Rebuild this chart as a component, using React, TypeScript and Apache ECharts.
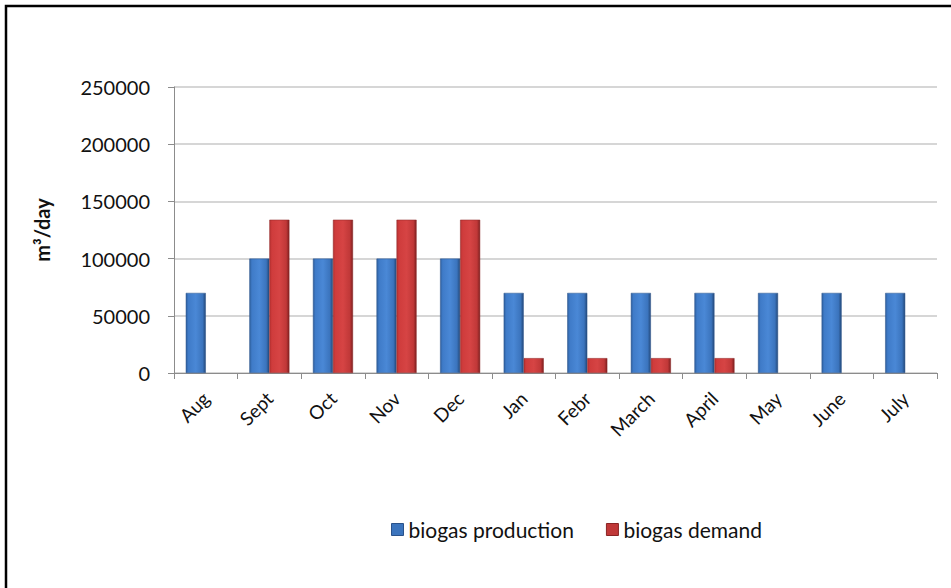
import React, { useEffect, useRef } from "react";
import * as echarts from "echarts";

const categories = ["Aug", "Sept", "Oct", "Nov", "Dec", "Jan", "Febr", "March", "April", "May", "June", "July"];
const production = [70000, 100000, 100000, 100000, 100000, 70000, 70000, 70000, 70000, 70000, 70000, 70000];
const demand = [null, 134000, 134000, 134000, 134000, 13000, 13000, 13000, 13000, null, null, null];
const seriesNames = ["biogas production", "biogas demand"];
const yTicks = { min: 0, max: 250000, interval: 50000 };

const FONT = "Lato, 'Open Sans', sans-serif";

export default function App() {
  const ref = useRef<HTMLDivElement>(null);
  useEffect(() => {
    const chart = echarts.init(ref.current!, null, { renderer: "svg" });
    const blue = new echarts.graphic.LinearGradient(0, 0, 1, 0, [
      { offset: 0, color: "#2e5f9e" },
      { offset: 0.12, color: "#3f7bc8" },
      { offset: 0.5, color: "#4a88d6" },
      { offset: 0.85, color: "#3b74bd" },
      { offset: 1, color: "#23497a" },
    ]);
    const red = new echarts.graphic.LinearGradient(0, 0, 1, 0, [
      { offset: 0, color: "#b83232" },
      { offset: 0.12, color: "#cf3c3c" },
      { offset: 0.5, color: "#d64444" },
      { offset: 0.85, color: "#c03838" },
      { offset: 1, color: "#7f2020" },
    ]);
    chart.setOption({
      animation: false,
      backgroundColor: "#ffffff",
      grid: { left: 174, right: 14, top: 87, bottom: 215, containLabel: false },
      graphic: [
        {
          type: "rect",
          shape: { x: 6, y: 6, width: 980, height: 620 },
          style: { fill: "none", stroke: "#000", lineWidth: 2.5 },
          z: 100,
        },
      ],
      legend: {
        left: 386,
        top: 514,
        icon: "rect",
        itemWidth: 12,
        itemHeight: 12,
        itemGap: 32,
        textStyle: { fontFamily: FONT, fontSize: 21, color: "#111" },
        data: [
          { name: seriesNames[0], itemStyle: { color: "#3b74bd", borderColor: "#2a528a", borderWidth: 1 } },
          { name: seriesNames[1], itemStyle: { color: "#c03838", borderColor: "#8a2424", borderWidth: 1 } },
        ],
      },
      xAxis: {
        type: "category",
        data: categories,
        axisLine: { lineStyle: { color: "#8c8c8c", width: 1 } },
        axisTick: { show: true, alignWithLabel: false, length: 6, lineStyle: { color: "#8c8c8c" } },
        axisLabel: {
          rotate: 45,
          fontFamily: FONT,
          fontSize: 19,
          color: "#111",
          margin: 22,
          interval: 0,
        },
      },
      yAxis: {
        type: "value",
        min: yTicks.min,
        max: yTicks.max,
        interval: yTicks.interval,
        name: "m³/day",
        nameLocation: "middle",
        nameGap: 122,
        nameRotate: 90,
        nameTextStyle: { fontFamily: FONT, fontSize: 20, fontWeight: "bold", color: "#111" },
        axisLine: { show: true, lineStyle: { color: "#8c8c8c" } },
        axisTick: { show: true, length: 6, lineStyle: { color: "#8c8c8c" } },
        splitLine: { lineStyle: { color: "#c8c8c8", width: 1.5 } },
        axisLabel: {
          fontFamily: FONT,
          fontSize: 20,
          color: "#111",
          margin: 24,
          formatter: (v: number) => String(v),
        },
      },
      series: [
        {
          name: seriesNames[0],
          type: "bar",
          data: production,
          barGap: "0%",
          barCategoryGap: "37%",
          itemStyle: { color: blue, borderColor: "#2a528a", borderWidth: 0.5 },
        },
        {
          name: seriesNames[1],
          type: "bar",
          data: demand,
          itemStyle: { color: red, borderColor: "#8a2424", borderWidth: 0.5 },
        },
      ],
    });
    return () => chart.dispose();
  }, []);
  return (
    <div
      ref={ref}
      style={{ position: "fixed", left: 0, top: 0, width: 951, height: 588, background: "#fff" }}
    />
  );
}
